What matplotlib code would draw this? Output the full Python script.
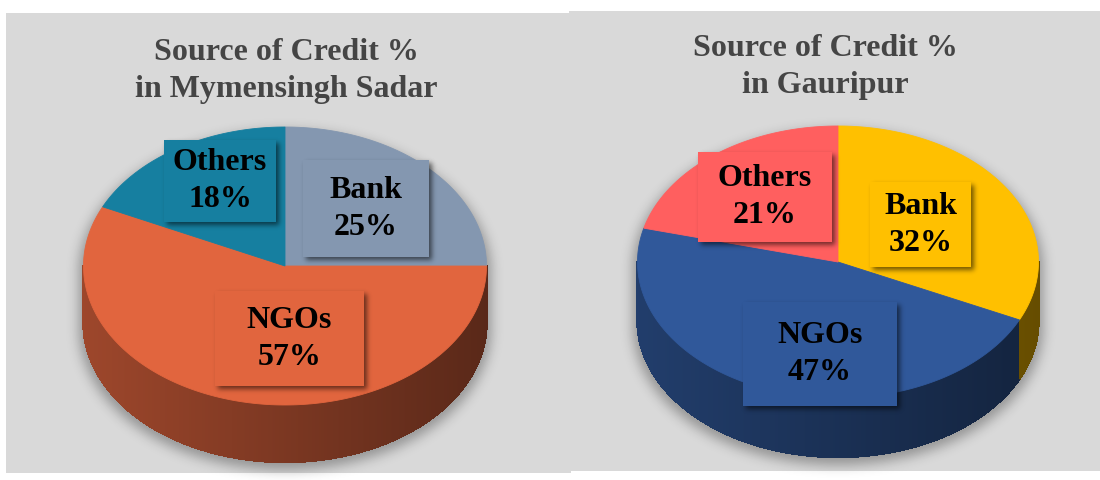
import numpy as np
import matplotlib.pyplot as plt
from matplotlib.patches import Polygon, Rectangle
from matplotlib.collections import PolyCollection, LineCollection
from matplotlib.colors import to_rgb

# credit sources, percent of borrowers
sources = ['Bank', 'NGOs', 'Others']
sadar_pct = [25, 57, 18]
gauripur_pct = [32, 47, 21]

sadar_title = ['Source of Credit %', 'in Mymensingh Sadar']
gauripur_title = ['Source of Credit %', 'in Gauripur']

sadar_colors = ['#8497b0', '#e1653e', '#167fa0']
gauripur_colors = ['#ffc000', '#30589a', '#ff5f5f']

W, H = 1100, 481
fig = plt.figure(figsize=(11, 4.81), dpi=100)
ax = fig.add_axes([0, 0, 1, 1])
ax.set_xlim(0, W)
ax.set_ylim(H, 0)
ax.axis('off')

plt.rcParams['font.family'] = ['Liberation Serif', 'DejaVu Serif']

# gray chart areas
ax.add_patch(Rectangle((6, 14), 565, 460, facecolor='#d9d9d9', edgecolor='none', zorder=0))
ax.add_patch(Rectangle((569, 12), 531, 460, facecolor='#d9d9d9', edgecolor='none', zorder=0))


def blur(img, sigma):
    r = int(3 * sigma)
    k = np.exp(-0.5 * (np.arange(-r, r + 1) / sigma) ** 2)
    k /= k.sum()
    img = np.apply_along_axis(lambda v: np.convolve(v, k, mode='same'), 0, img)
    img = np.apply_along_axis(lambda v: np.convolve(v, k, mode='same'), 1, img)
    return img


yy, xx = np.mgrid[0:H, 0:W] + 0.5


def cylinder_mask(cx, cy, rx, ry, depth):
    cyc = np.clip(yy, cy, cy + depth)
    return (((xx - cx) / rx) ** 2 + ((yy - cyc) / ry) ** 2 <= 1).astype(float)


def shadow_layer(mask, sigma, alpha, z):
    a = blur(mask, sigma) * alpha
    rgba = np.zeros((H, W, 4))
    rgba[..., 3] = np.clip(a, 0, 1)
    ax.imshow(rgba, extent=(0, W, H, 0), zorder=z, interpolation='bilinear')


def pie3d(values, colors, cx, cy, rx, ry, depth):
    vals = np.array(values, dtype=float)
    edges = 90 - 360 * np.concatenate([[0], np.cumsum(vals) / vals.sum()])

    def pt(t, dy=0):
        t = np.radians(t)
        return cx + rx * np.cos(t), cy - ry * np.sin(t) + dy

    # front wall, shaded darker towards the right
    quads, fcols, rims = [], [], []
    steps = np.linspace(180, 360, 361)
    for a0, a1 in zip(steps[:-1], steps[1:]):
        mid = (a0 + a1) / 2
        m = mid if mid <= 90 else mid - 360
        idx = np.searchsorted(-edges, -m) - 1
        idx = int(np.clip(idx, 0, len(vals) - 1))
        x0, y0 = pt(a0)
        x1, y1 = pt(a1)
        quads.append([(x0, y0), (x1, y1), (x1, y1 + depth), (x0, y0 + depth)])
        rims.append([(x0, y0 + depth), (x1, y1 + depth)])
        c = np.cos(np.radians(mid))
        f = 0.70 - 0.30 * (c + 1) / 2
        fcols.append(tuple(np.array(to_rgb(colors[idx])) * f))
    ax.add_collection(PolyCollection(quads, facecolors=fcols, edgecolors=fcols,
                                     linewidths=1.0, antialiaseds=False, zorder=3))
    # smooth lower rim of the wall
    ax.add_collection(LineCollection(rims, colors=fcols, linewidths=1.2,
                                     capstyle='round', zorder=3.5))

    # top face
    for i in range(len(vals)):
        ts = np.linspace(edges[i], edges[i + 1], 200)
        xs, ys = pt(ts)
        poly = [(cx, cy)] + list(zip(xs, ys))
        ax.add_patch(Polygon(poly, closed=True, facecolor=colors[i],
                             edgecolor=colors[i], linewidth=0.6, zorder=4))


def label_boxes(names, values, colors, boxes):
    mask = np.zeros((H, W))
    for (x0, y0, x1, y1) in boxes:
        mask[int(y0 + 3):int(y1 + 3), int(x0 + 3):int(x1 + 3)] = 1
    shadow_layer(mask, 2.5, 0.55, 5)
    for name, v, c, (x0, y0, x1, y1) in zip(names, values, colors, boxes):
        ax.add_patch(Rectangle((x0, y0), x1 - x0, y1 - y0, facecolor=c,
                               edgecolor='none', zorder=6))
        xc = (x0 + x1) / 2
        yc = (y0 + y1) / 2
        ax.text(xc, yc - 19, name, ha='center', va='center', fontsize=23,
                fontweight='bold', color='black', zorder=7)
        ax.text(xc, yc + 18, f'{v}%', ha='center', va='center', fontsize=23,
                fontweight='bold', color='black', zorder=7)


def title(lines, xc, y0):
    for k, s in enumerate(lines):
        ax.text(xc, y0 + 37 * k, s, ha='center', va='center', fontsize=23,
                fontweight='bold', color='#454545', zorder=7)


# pie drop shadows
sh = cylinder_mask(285, 273, 206, 141, 57) + cylinder_mask(838, 269, 205, 138, 59)
shadow_layer(np.clip(sh, 0, 1), 6, 0.32, 1)

pie3d(sadar_pct, sadar_colors, 285, 267, 201.5, 139, 57)
pie3d(gauripur_pct, gauripur_colors, 838, 263, 200.5, 136, 59)

label_boxes(sources, sadar_pct, sadar_colors,
            [(303, 161, 429, 258), (215, 292, 364, 387), (164, 141, 276, 223)])
label_boxes(sources, gauripur_pct, gauripur_colors,
            [(870, 183, 971, 268), (743, 303, 897, 407), (698, 153, 832, 243)])

title(sadar_title, 286, 52)
title(gauripur_title, 825, 49)

fig.savefig('out.png', dpi=100)
